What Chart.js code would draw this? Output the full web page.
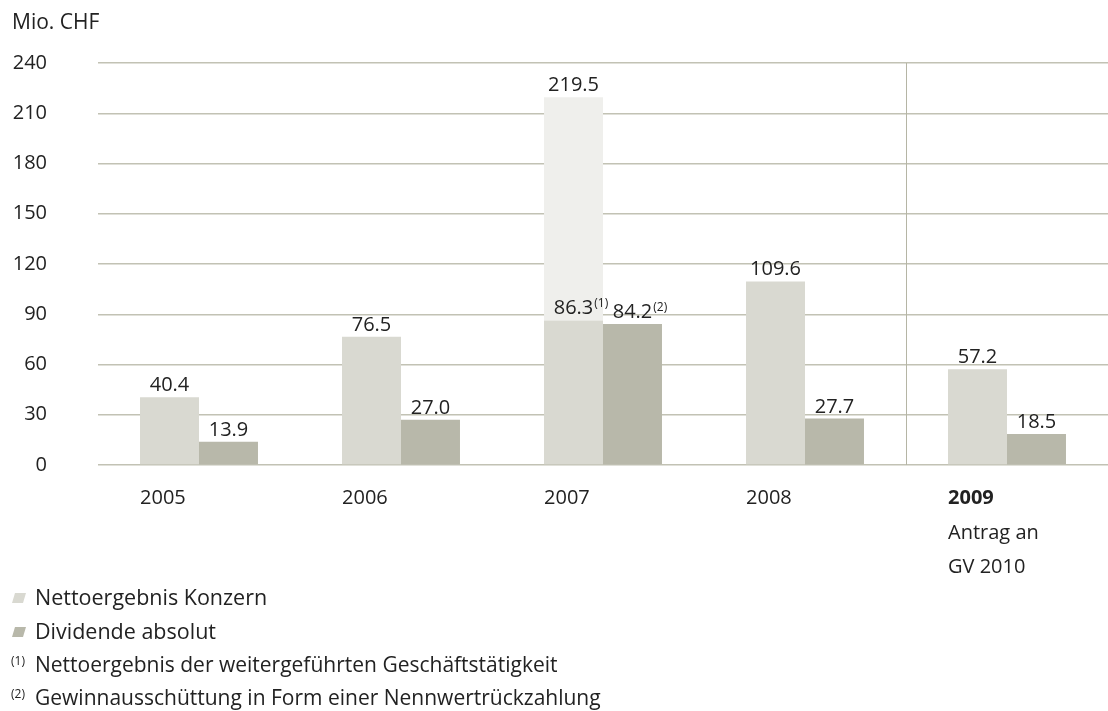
<!DOCTYPE html>
<html>
<head>
<meta charset="utf-8">
<script src="https://cdn.jsdelivr.net/npm/chart.js@4.4.0/dist/chart.umd.min.js"></script>
<style>
  html, body { margin: 0; padding: 0; background: #ffffff; }
  #wrap { position: relative; width: 1108px; height: 711px; }
</style>
</head>
<body>
<div id="wrap"><canvas id="c" width="1108" height="711"></canvas></div>
<script>
// ---- Data ----
const years = ['2005', '2006', '2007', '2008', '2009'];
const netResult = [40.4, 76.5, 219.5, 109.6, 57.2];          // Nettoergebnis Konzern (total)
const netContinuing = [null, null, 86.3, null, null];        // Nettoergebnis weitergeführte Geschäftstätigkeit
const dividend = [13.9, 27.0, 84.2, 27.7, 18.5];             // Dividende absolut
const netFootnote = ['', '', '(1)', '', ''];
const divFootnote = ['', '', '(2)', '', ''];
const yTicks = [0, 30, 60, 90, 120, 150, 180, 210, 240];
const subLabels = ['', '', '', '', 'Antrag an|GV 2010'];
const boldYear = [false, false, false, false, true];
const unitLabel = 'Mio. CHF';
const legendItems = ['Nettoergebnis Konzern', 'Dividende absolut'];
const footnotes = [
  ['(1)', 'Nettoergebnis der weitergeführten Geschäftstätigkeit'],
  ['(2)', 'Gewinnausschüttung in Form einer Nennwertrückzahlung']
];

// ---- Derived datasets ----
const netLower = netResult.map((v, i) => netContinuing[i] != null ? netContinuing[i] : v);
const netUpper = netResult.map((v, i) => netContinuing[i] != null ? +(v - netContinuing[i]).toFixed(1) : null);

const COL_NET = '#d9d9d1';
const COL_NET_UP = '#efefec';
const COL_DIV = '#b8b8aa';
const COL_GRID = '#c2c2b4';
const COL_TEXT = '#222222';
const FONT = '"Open Sans", "DejaVu Sans", sans-serif';

const fmt = v => v.toFixed(1);

const overlay = {
  id: 'overlay',
  afterDatasetsDraw(chart) {
    const ctx = chart.ctx;
    const area = chart.chartArea;
    const xs = chart.scales.x;
    ctx.save();
    // vertical separator between 2008 and 2009
    const sx = Math.round((xs.getPixelForValue(3) + xs.getPixelForValue(4)) / 2) + 0.5;
    ctx.strokeStyle = '#b5b5a5';
    ctx.lineWidth = 1;
    ctx.beginPath();
    ctx.moveTo(sx, area.top);
    ctx.lineTo(sx, area.bottom);
    ctx.stroke();

    const mLow = chart.getDatasetMeta(0);
    const mUp = chart.getDatasetMeta(1);
    const mDiv = chart.getDatasetMeta(2);

    ctx.fillStyle = COL_TEXT;
    ctx.textBaseline = 'alphabetic';
    const drawVal = (x, y, txt, sup) => {
      ctx.font = '20px ' + FONT;
      const w = ctx.measureText(txt).width;
      ctx.textAlign = 'left';
      ctx.fillText(txt, x - w / 2, y);
      if (sup) {
        ctx.font = '12px ' + FONT;
        ctx.fillText(sup, x + w / 2 + 1, y - 7);
      }
    };
    years.forEach((yr, i) => {
      const lo = mLow.data[i];
      drawVal(lo.x, lo.y - 6, fmt(netLower[i]), netFootnote[i]);
      if (netUpper[i] != null) {
        const up = mUp.data[i];
        drawVal(up.x, up.y - 6, fmt(netResult[i]), '');
      }
      const d = mDiv.data[i];
      drawVal(d.x, d.y - 6, fmt(dividend[i]), divFootnote[i]);

      // x labels, left aligned to left edge of first bar
      const left = lo.x - lo.width / 2;
      ctx.textAlign = 'left';
      ctx.font = (boldYear[i] ? 'bold ' : '') + '20px ' + FONT;
      ctx.fillText(yr, left, 504);
      if (subLabels[i]) {
        ctx.font = '20px ' + FONT;
        subLabels[i].split('|').forEach((ln, k) => {
          ctx.fillText(ln, left, 539 + k * 34);
        });
      }
    });

    // unit label
    ctx.font = '21px ' + FONT;
    ctx.textAlign = 'left';
    ctx.fillText(unitLabel, 12, 29);

    // legend
    const legCols = [COL_NET, COL_DIV];
    legendItems.forEach((t, k) => {
      const cy = 598 + k * 34;
      ctx.fillStyle = legCols[k];
      ctx.beginPath();
      ctx.moveTo(12, cy + 5);
      ctx.lineTo(23, cy + 5);
      ctx.lineTo(26, cy - 5);
      ctx.lineTo(15, cy - 5);
      ctx.closePath();
      ctx.fill();
      ctx.fillStyle = COL_TEXT;
      ctx.font = '21.5px ' + FONT;
      ctx.fillText(t, 35, cy + 7);
    });
    footnotes.forEach((f, k) => {
      const cy = 665 + k * 33;
      ctx.font = '12px ' + FONT;
      ctx.fillText(f[0], 11, cy);
      ctx.font = '21px ' + FONT;
      ctx.fillText(f[1], 35, cy + 7);
    });
    ctx.restore();
  }
};

new Chart(document.getElementById('c'), {
  type: 'bar',
  data: {
    labels: years,
    datasets: [
      { label: 'Nettoergebnis Konzern', data: netLower, backgroundColor: COL_NET, stack: 'net', borderWidth: 0 },
      { label: 'Nettoergebnis Konzern (gesamt)', data: netUpper, backgroundColor: COL_NET_UP, stack: 'net', borderWidth: 0 },
      { label: 'Dividende absolut', data: dividend, backgroundColor: COL_DIV, stack: 'div', borderWidth: 0 }
    ]
  },
  options: {
    responsive: false,
    animation: false,
    events: [],
    layout: { padding: { left: 12, top: 63, right: 0, bottom: 246 } },
    datasets: { bar: { barPercentage: 1.0, categoryPercentage: 0.584 } },
    plugins: { legend: { display: false }, tooltip: { enabled: false } },
    scales: {
      x: {
        display: false
      },
      y: {
        stacked: true,
        min: 0,
        max: 240,
        afterBuildTicks(scale) { scale.ticks = yTicks.map(v => ({ value: v })); },
        afterFit(scale) { scale.width = 86; },
        border: { display: false },
        grid: { color: COL_GRID, lineWidth: 1.5, drawTicks: false },
        ticks: {
          padding: 51,
          color: COL_TEXT,
          font: { family: FONT, size: 20 }
        }
      }
    }
  },
  plugins: [overlay]
});
</script>
</body>
</html>
